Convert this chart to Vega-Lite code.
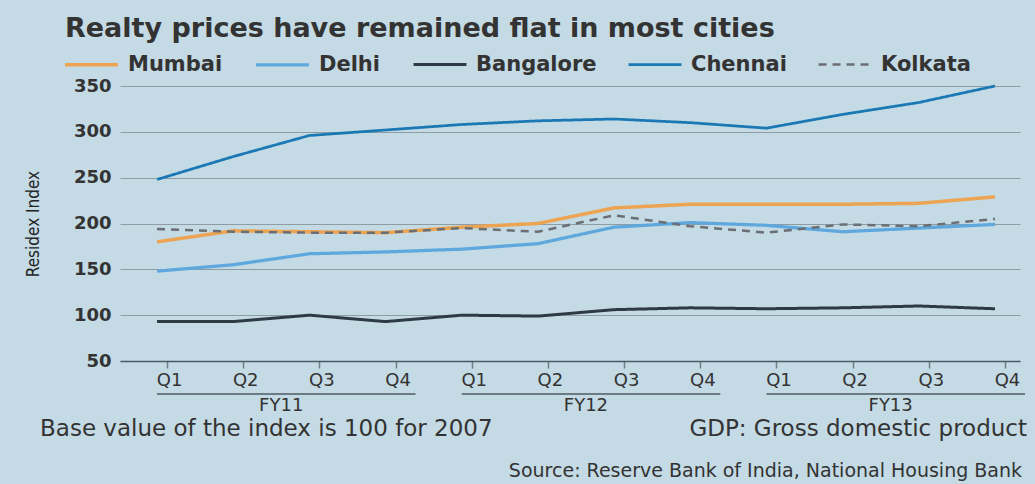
{
  "$schema": "https://vega.github.io/schema/vega-lite/v6.json",
  "autosize": {"type": "none"},
  "padding": {"left": 120, "top": 86, "right": 15, "bottom": 123},
  "width": 900,
  "height": 275,
  "background": "#c4dae5",
  "config": {"view": {"stroke": null}, "font": "DejaVu Sans"},
  "title": {
    "text": "Realty prices have remained flat in most cities",
    "anchor": "start",
    "frame": "group",
    "dx": -55,
    "dy": 9,
    "offset": 2,
    "fontSize": 27,
    "fontWeight": "bold",
    "font": "DejaVu Sans",
    "color": "#333333"
  },
  "datasets": {
    "prices": [
      {"city": "Chennai", "quarter": "FY11 Q1", "index": 248},
      {"city": "Chennai", "quarter": "FY11 Q2", "index": 273},
      {"city": "Chennai", "quarter": "FY11 Q3", "index": 296},
      {"city": "Chennai", "quarter": "FY11 Q4", "index": 302},
      {"city": "Chennai", "quarter": "FY12 Q1", "index": 308},
      {"city": "Chennai", "quarter": "FY12 Q2", "index": 312},
      {"city": "Chennai", "quarter": "FY12 Q3", "index": 314},
      {"city": "Chennai", "quarter": "FY12 Q4", "index": 310},
      {"city": "Chennai", "quarter": "FY13 Q1", "index": 304},
      {"city": "Chennai", "quarter": "FY13 Q2", "index": 319},
      {"city": "Chennai", "quarter": "FY13 Q3", "index": 332},
      {"city": "Chennai", "quarter": "FY13 Q4", "index": 350},
      {"city": "Bangalore", "quarter": "FY11 Q1", "index": 93},
      {"city": "Bangalore", "quarter": "FY11 Q2", "index": 93},
      {"city": "Bangalore", "quarter": "FY11 Q3", "index": 100},
      {"city": "Bangalore", "quarter": "FY11 Q4", "index": 93},
      {"city": "Bangalore", "quarter": "FY12 Q1", "index": 100},
      {"city": "Bangalore", "quarter": "FY12 Q2", "index": 99},
      {"city": "Bangalore", "quarter": "FY12 Q3", "index": 106},
      {"city": "Bangalore", "quarter": "FY12 Q4", "index": 108},
      {"city": "Bangalore", "quarter": "FY13 Q1", "index": 107},
      {"city": "Bangalore", "quarter": "FY13 Q2", "index": 108},
      {"city": "Bangalore", "quarter": "FY13 Q3", "index": 110},
      {"city": "Bangalore", "quarter": "FY13 Q4", "index": 107},
      {"city": "Delhi", "quarter": "FY11 Q1", "index": 148},
      {"city": "Delhi", "quarter": "FY11 Q2", "index": 155},
      {"city": "Delhi", "quarter": "FY11 Q3", "index": 167},
      {"city": "Delhi", "quarter": "FY11 Q4", "index": 169},
      {"city": "Delhi", "quarter": "FY12 Q1", "index": 172},
      {"city": "Delhi", "quarter": "FY12 Q2", "index": 178},
      {"city": "Delhi", "quarter": "FY12 Q3", "index": 196},
      {"city": "Delhi", "quarter": "FY12 Q4", "index": 201},
      {"city": "Delhi", "quarter": "FY13 Q1", "index": 198},
      {"city": "Delhi", "quarter": "FY13 Q2", "index": 191},
      {"city": "Delhi", "quarter": "FY13 Q3", "index": 195},
      {"city": "Delhi", "quarter": "FY13 Q4", "index": 199},
      {"city": "Mumbai", "quarter": "FY11 Q1", "index": 180},
      {"city": "Mumbai", "quarter": "FY11 Q2", "index": 192},
      {"city": "Mumbai", "quarter": "FY11 Q3", "index": 191},
      {"city": "Mumbai", "quarter": "FY11 Q4", "index": 190},
      {"city": "Mumbai", "quarter": "FY12 Q1", "index": 196},
      {"city": "Mumbai", "quarter": "FY12 Q2", "index": 200},
      {"city": "Mumbai", "quarter": "FY12 Q3", "index": 217},
      {"city": "Mumbai", "quarter": "FY12 Q4", "index": 221},
      {"city": "Mumbai", "quarter": "FY13 Q1", "index": 221},
      {"city": "Mumbai", "quarter": "FY13 Q2", "index": 221},
      {"city": "Mumbai", "quarter": "FY13 Q3", "index": 222},
      {"city": "Mumbai", "quarter": "FY13 Q4", "index": 229},
      {"city": "Kolkata", "quarter": "FY11 Q1", "index": 194},
      {"city": "Kolkata", "quarter": "FY11 Q2", "index": 191},
      {"city": "Kolkata", "quarter": "FY11 Q3", "index": 190},
      {"city": "Kolkata", "quarter": "FY11 Q4", "index": 190},
      {"city": "Kolkata", "quarter": "FY12 Q1", "index": 195},
      {"city": "Kolkata", "quarter": "FY12 Q2", "index": 191},
      {"city": "Kolkata", "quarter": "FY12 Q3", "index": 209},
      {"city": "Kolkata", "quarter": "FY12 Q4", "index": 197},
      {"city": "Kolkata", "quarter": "FY13 Q1", "index": 190},
      {"city": "Kolkata", "quarter": "FY13 Q2", "index": 199},
      {"city": "Kolkata", "quarter": "FY13 Q3", "index": 197},
      {"city": "Kolkata", "quarter": "FY13 Q4", "index": 205}
    ],
    "years": [
      {"fy": "FY11", "start": "FY11 Q1", "end": "FY11 Q4", "mid": "FY11 Q2"},
      {"fy": "FY12", "start": "FY12 Q1", "end": "FY12 Q4", "mid": "FY12 Q2"},
      {"fy": "FY13", "start": "FY13 Q1", "end": "FY13 Q4", "mid": "FY13 Q2"}
    ]
  },
  "layer": [
    {
      "data": {"name": "prices"},
      "mark": {"type": "line", "strokeCap": "butt"},
      "encoding": {
        "x": {
          "field": "quarter",
          "type": "ordinal",
          "scale": {
            "type": "point",
            "domain": ["FY11 Q1", "FY11 Q2", "FY11 Q3", "FY11 Q4", "FY12 Q1", "FY12 Q2", "FY12 Q3", "FY12 Q4", "FY13 Q1", "FY13 Q2", "FY13 Q3", "FY13 Q4"],
            "padding": 0.407,
            "align": 0.597
          },
          "axis": {
            "title": null,
            "labelExpr": "split(datum.value, ' ')[1]",
            "labelAngle": 0,
            "labelFont": "DejaVu Sans",
            "labelFontSize": 18,
            "labelColor": "#333333",
            "labelPadding": 3,
            "labelOffset": 2,
            "tickOffset": 10,
            "tickSize": 7,
            "tickColor": "#6f7f8a",
            "tickWidth": 1.5,
            "domainColor": "#4a5a66",
            "domainWidth": 1.5,
            "grid": false
          }
        },
        "y": {
          "field": "index",
          "type": "quantitative",
          "scale": {"domain": [50, 350], "nice": false, "zero": false},
          "axis": {
            "title": "Residex Index",
            "values": [50, 100, 150, 200, 250, 300, 350],
            "grid": true,
            "gridColor": "#8e9ca4",
            "gridWidth": 1,
            "domain": false,
            "ticks": false,
            "labelFont": "DejaVu Sans",
            "labelFontSize": 18,
            "labelFontWeight": "bold",
            "labelColor": "#333333",
            "labelPadding": 9,
            "titleFont": "DejaVu Sans Condensed, Liberation Sans Narrow, DejaVu Sans",
            "titleFontSize": 17,
            "titleFontWeight": "normal",
            "titleColor": "#222222",
            "titlePadding": 31
          }
        },
        "color": {
          "field": "city",
          "type": "nominal",
          "scale": {
            "domain": ["Mumbai", "Delhi", "Bangalore", "Chennai", "Kolkata"],
            "range": ["#eda452", "#5ea8de", "#2e3b44", "#1a78b4", "#6b6f73"]
          },
          "legend": {
            "title": null,
            "orient": "none",
            "legendX": -57,
            "legendY": -50,
            "direction": "horizontal",
            "symbolType": "stroke",
            "symbolSize": 2800,
            "symbolStrokeWidth": 3,
            "labelFont": "DejaVu Sans",
            "labelFontSize": 21,
            "labelFontWeight": "bold",
            "labelColor": "#333333",
            "labelOffset": 8,
            "columnPadding": 26
          }
        },
        "strokeDash": {
          "field": "city",
          "type": "nominal",
          "scale": {
            "domain": ["Mumbai", "Delhi", "Bangalore", "Chennai", "Kolkata"],
            "range": [[1, 0], [1, 0], [1, 0], [1, 0], [8, 6]]
          },
          "legend": {
            "title": null,
            "orient": "none",
            "legendX": -57,
            "legendY": -50,
            "direction": "horizontal",
            "symbolType": "stroke",
            "symbolSize": 2800,
            "symbolStrokeWidth": 3,
            "labelFont": "DejaVu Sans",
            "labelFontSize": 21,
            "labelFontWeight": "bold",
            "labelColor": "#333333",
            "labelOffset": 8,
            "columnPadding": 26
          }
        },
        "strokeWidth": {
          "field": "city",
          "type": "nominal",
          "scale": {
            "domain": ["Mumbai", "Delhi", "Bangalore", "Chennai", "Kolkata"],
            "range": [3.5, 2.5, 2.5, 3, 2.5]
          },
          "legend": null
        }
      }
    },
    {
      "data": {"name": "years"},
      "mark": {"type": "rule", "x2Offset": 30, "strokeWidth": 1.5, "color": "#4f5a62"},
      "encoding": {
        "x": {"field": "start", "type": "ordinal"},
        "x2": {"field": "end"},
        "y": {"datum": 14, "type": "quantitative"}
      }
    },
    {
      "data": {"name": "years"},
      "mark": {"type": "text", "dx": 48, "fontSize": 18, "color": "#333333", "baseline": "middle", "font": "DejaVu Sans"},
      "encoding": {
        "x": {"field": "mid", "type": "ordinal"},
        "y": {"datum": 1, "type": "quantitative"},
        "text": {"field": "fy"}
      }
    },
    {
      "data": {"values": [{"note": "Base value of the index is 100 for 2007"}]},
      "mark": {"type": "text", "align": "left", "dx": -117, "fontSize": 23, "color": "#333333", "baseline": "middle", "font": "DejaVu Sans"},
      "encoding": {
        "x": {"datum": "FY11 Q1", "type": "ordinal"},
        "y": {"datum": -24, "type": "quantitative"},
        "text": {"field": "note"}
      }
    },
    {
      "data": {"values": [{"note": "GDP: Gross domestic product"}]},
      "mark": {"type": "text", "align": "right", "dx": 32, "fontSize": 23, "color": "#333333", "baseline": "middle", "font": "DejaVu Sans"},
      "encoding": {
        "x": {"datum": "FY13 Q4", "type": "ordinal"},
        "y": {"datum": -24, "type": "quantitative"},
        "text": {"field": "note"}
      }
    },
    {
      "data": {"values": [{"note": "Source: Reserve Bank of India, National Housing Bank"}]},
      "mark": {"type": "text", "align": "right", "dx": 27, "fontSize": 19, "color": "#333333", "baseline": "middle", "font": "DejaVu Sans"},
      "encoding": {
        "x": {"datum": "FY13 Q4", "type": "ordinal"},
        "y": {"datum": -70, "type": "quantitative"},
        "text": {"field": "note"}
      }
    }
  ]
}
